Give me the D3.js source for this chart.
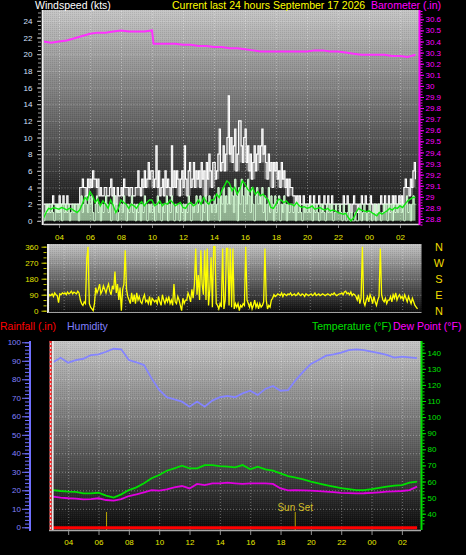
<!DOCTYPE html>
<html>
<head>
<meta charset="utf-8">
<script src="https://cdn.jsdelivr.net/npm/d3@7"></script>
<style>
  body { margin: 0; background: #000; }
  svg { display: block; font-family: "Liberation Sans", Arial, sans-serif; }
</style>
</head>
<body>
<div id="chart"></div>
<script>
var svgWidth = 466;
var svgHeight = 555;

// ---- data (hours counted from midnight of the first day) ----
var hourTicks = [4, 6, 8, 10, 12, 14, 16, 18, 20, 22, 24, 26];
var windTicks = [0, 2, 4, 6, 8, 10, 12, 14, 16, 18, 20, 22, 24];
var baroTicks = [28.8, 28.9, 29, 29.1, 29.2, 29.3, 29.4, 29.5, 29.6, 29.7, 29.8, 29.9, 30, 30.1, 30.2, 30.3, 30.4, 30.5, 30.6];
var dirTicks = [0, 90, 180, 270, 360];
var compass = ["N", "E", "S", "W", "N"];
var humTicks = [0, 10, 20, 30, 40, 50, 60, 70, 80, 90, 100];
var rainTicks = [0, 0.1, 0.2, 0.3, 0.4, 0.5, 0.6, 0.7, 0.8, 0.9, 1, 1.1, 1.2];
var tempTicks = [40, 50, 60, 70, 80, 90, 100, 110, 120, 130, 140];

// wind gust (kts), every 5 minutes from 03:00
var gust = [
  2,2,1,2,2,2,2,3,2,2,2,1,  3,2,2,3,2,2,3,2,2,2,2,2,  2,2,2,2,4,4,5,4,4,3,5,4,
  5,4,6,5,5,4,5,3,4,3,3,4,  4,3,3,4,5,3,4,3,2,4,3,3,  4,3,5,4,4,4,3,4,4,3,3,4,
  4,6,4,3,5,4,6,4,5,7,5,6,  6,4,5,9,4,6,3,4,5,3,6,4,  5,4,3,9,4,6,4,6,5,3,5,6,
  4,9,5,3,6,7,4,5,7,4,6,5,  6,4,7,5,6,3,7,5,8,6,4,7,  7,5,6,8,11,6,7,9,6,8,10,15,
  8,10,7,9,11,6,8,12,12,9,7,10,  11,7,9,6,8,5,7,9,6,8,9,7,  9,11,8,9,7,5,8,6,7,4,7,6,
  7,5,6,4,7,5,6,4,5,3,5,4,  4,3,3,2,3,2,3,2,2,3,2,2,  2,2,3,2,2,3,2,2,2,3,2,2,
  2,3,2,2,3,2,2,3,2,2,2,2,  2,2,2,2,3,2,2,3,2,2,1,2,  3,2,2,1,2,2,3,2,2,3,2,2,
  2,3,2,1,2,2,1,2,2,3,2,2,  3,2,2,3,2,2,3,2,3,2,2,3,  2,3,2,4,5,4,4,3,5,4,6,7,
  5
];
// wind speed (kts), every 5 minutes from 03:00
var speed = [
  0,1,2,1,2,1,2,1,0,2,1,2,  1,2,0,2,1,2,1,2,0,1,2,1,  2,1,2,0,2,3,1,2,3,2,1,3,
  2,3,1,0,2,3,1,2,0,2,1,2,  3,2,1,2,0,2,3,1,2,0,1,2,  2,1,3,2,0,2,1,2,3,1,2,0,
  2,1,2,0,2,1,3,2,0,2,1,2,  1,2,0,2,3,1,2,0,2,1,2,3,  0,2,1,3,2,0,2,1,2,0,2,1,
  2,0,2,1,3,2,0,2,1,2,3,1,  2,3,0,2,1,3,2,0,3,2,1,2,  3,1,2,4,0,3,2,4,1,3,2,4,
  2,4,3,1,5,3,0,4,2,5,3,1,  4,2,5,3,1,4,2,0,3,4,2,3,  2,4,1,3,0,2,4,1,3,2,0,3,
  1,2,3,0,2,1,3,2,0,2,1,2,  2,1,2,0,2,1,2,1,0,2,1,2,  1,2,1,2,0,2,1,2,1,0,2,1,
  2,1,0,2,1,2,1,2,0,1,2,1,  1,2,1,0,2,1,0,1,2,0,1,0,  0,1,0,0,1,2,0,1,2,1,0,1,
  2,1,0,1,2,0,1,2,1,0,1,2,  1,2,0,2,1,2,0,2,1,2,1,2,  2,1,2,0,2,3,1,2,0,2,3,2,
  2
];
// average wind speed (kts), every 10 minutes from 03:00
var avgSpeed = [
  0.3,1.0,1.5,1.4,1.6,1.5,  1.4,1.6,1.5,1.3,1.5,1.4,  1.2,1.0,1.3,2.0,2.8,2.5,
  3.5,3.0,2.2,2.6,1.8,2.4,  2.0,1.5,2.5,1.8,1.0,1.5,  2.5,2.2,2.0,1.5,2.0,1.8,
  1.5,2.0,2.3,1.8,2.2,2.5,  2.5,1.8,2.0,2.4,1.8,2.1,  2.0,2.5,2.2,1.8,2.0,2.2,
  1.6,1.5,2.0,2.2,1.8,2.0,  2.5,2.0,2.8,2.3,2.0,2.5,  2.5,3.2,2.8,3.6,4.2,4.8,
  4.5,3.6,4.0,3.2,3.8,4.8,  4.4,3.8,3.5,4.0,3.2,3.5,  3.0,3.2,2.8,2.5,1.6,1.5,
  2.0,2.6,2.5,2.2,2.4,2.0,  2.0,1.8,2.2,1.8,1.6,1.7,  1.5,1.6,1.8,1.4,1.5,1.6,
  1.4,1.3,1.5,1.2,1.3,1.2,  1.0,0.9,0.8,0.9,0.4,0.0,  0.3,1.0,1.5,1.3,1.2,1.1,
  1.2,1.0,0.8,0.6,1.0,0.8,  1.0,1.2,1.5,1.3,1.6,1.5,  1.8,1.6,2.0,2.4,2.6,2.8,
  2.8
];
// wind direction (degrees), every 5 minutes from 03:00
var direction = [
  75,90,85,95,80,100,90,85,45,95,90,100,  95,100,90,105,95,100,110,95,105,100,95,110,
  100,60,40,30,50,40,290,360,40,20,10,0,  40,130,100,120,150,95,110,140,120,100,130,150,
  110,90,140,120,220,100,150,60,130,0,120,150,  340,120,80,60,40,100,50,90,40,100,60,80,
  50,40,70,90,50,60,40,80,30,70,60,50,  60,40,80,50,30,90,60,40,70,50,80,40,
  60,30,150,50,40,80,60,30,0,70,40,60,  60,100,80,50,120,70,150,350,90,200,60,340,
  150,90,340,60,350,30,120,300,20,360,360,40,  30,10,40,20,350,10,60,350,350,30,350,20,
  350,10,40,20,40,0,30,20,40,30,360,60,  40,20,50,10,30,60,20,40,10,40,20,30,
  50,350,60,10,30,20,60,70,90,80,85,95,  90,85,100,80,95,90,85,95,90,100,85,90,
  95,85,90,100,90,85,95,90,80,95,90,85,  90,95,85,90,100,85,90,95,85,90,95,90,
  85,90,95,90,85,95,90,100,90,85,90,95,  95,100,90,105,110,95,100,90,105,85,95,90,
  80,60,90,40,70,360,50,30,60,80,50,90,  70,40,80,50,30,60,80,350,90,60,50,70,
  40,60,60,80,50,90,70,100,60,80,90,70,  80,60,90,70,50,80,60,40,70,50,30,20,
  10
];
// barometer (in)
var baroTime = [3, 3.5, 4, 4.5, 5, 5.5, 6, 6.5, 7, 7.5, 8, 8.5, 9, 9.5, 10, 10.1, 10.5, 11, 11.5, 12, 12.5, 13, 13.5, 14, 14.5,
  15, 15.5, 16, 16.5, 17, 17.5, 18, 18.5, 19, 19.5, 20, 20.5, 21, 21.5, 22, 22.5, 23, 23.5, 24, 24.5, 25, 25.5, 26, 26.5, 27];
var baroValue = [30.40, 30.39, 30.40, 30.41, 30.43, 30.45, 30.47, 30.48, 30.48, 30.49, 30.50, 30.49, 30.49, 30.49, 30.50, 30.38,
  30.38, 30.38, 30.38, 30.37, 30.37, 30.36, 30.36, 30.35, 30.35, 30.34, 30.34, 30.33, 30.32, 30.31, 30.31, 30.31, 30.31,
  30.31, 30.31, 30.31, 30.32, 30.32, 30.31, 30.31, 30.30, 30.29, 30.28, 30.28, 30.28, 30.28, 30.27, 30.27, 30.26, 30.28];
// every 30 minutes from 03:00
var humidity = [89.2, 91.6, 89.0, 90.4, 91.1, 93.1, 93.5, 94.9, 96.5, 96.2, 90.4, 89.2, 87.7, 80.5, 74.2, 70.3, 69.2, 67.9,
  65.2, 68.0, 65.2, 68.5, 70.3, 71.0, 70.3, 72.4, 73.8, 71.5, 74.8, 76.4, 73.8, 74.2, 79.6, 84.1, 88.3, 90.4, 92.8, 93.5,
  94.4, 95.8, 96.2, 95.8, 94.9, 94.1, 93.2, 91.7, 92.3, 91.9, 91.4];
var temperature = [54.7, 54.1, 53.7, 53.5, 52.6, 52.6, 53.0, 51.2, 50.0, 52.0, 54.7, 56.4, 58.9, 62.0, 64.0, 66.7, 68.2, 69.8,
  68.2, 68.2, 70.2, 70.2, 69.6, 69.2, 68.8, 70.2, 67.6, 69.2, 67.6, 66.7, 65.1, 63.4, 62.4, 61.3, 59.9, 58.9, 57.8, 56.8,
  55.9, 55.3, 54.7, 54.7, 55.3, 56.1, 56.8, 57.4, 57.8, 59.3, 59.9];
var dewPoint = [50.6, 50.0, 49.6, 49.4, 48.9, 49.1, 49.6, 48.5, 48.1, 49.1, 51.0, 52.0, 53.3, 54.7, 54.3, 55.1, 56.4, 57.2,
  55.7, 58.5, 57.8, 58.9, 58.9, 59.3, 58.9, 58.5, 58.9, 58.9, 58.9, 58.5, 55.7, 54.5, 54.7, 54.5, 54.3, 54.0, 53.7, 53.4,
  53.0, 52.8, 52.6, 52.7, 53.0, 53.3, 53.7, 53.9, 54.1, 54.7, 56.8];
// hourly rainfall total (in)
var rainfall = [0, 0, 0, 0, 0, 0, 0, 0, 0, 0, 0, 0, 0, 0, 0, 0, 0, 0, 0, 0, 0, 0, 0, 0, 0];
var sunTimes = [6.53, 18.97];
var sunLabels = ["", "Sun Set"];

// ---- svg ----
var svg = d3.select("#chart").append("svg")
  .attr("width", svgWidth)
  .attr("height", svgHeight);

var defs = svg.append("defs");
var grad = defs.append("linearGradient")
  .attr("id", "bg").attr("x1", 0).attr("y1", 0).attr("x2", 0).attr("y2", 1);
grad.append("stop").attr("offset", "0%").attr("stop-color", "#c6c6c6");
grad.append("stop").attr("offset", "100%").attr("stop-color", "#0a0a0a");

// fine dither texture, like the old gif
var dots = defs.append("pattern").attr("id", "dots")
  .attr("width", 2).attr("height", 2).attr("patternUnits", "userSpaceOnUse");
dots.append("rect").attr("width", 1).attr("height", 1).attr("fill", "#000").attr("fill-opacity", 0.09);
dots.append("rect").attr("x", 1).attr("y", 1).attr("width", 1).attr("height", 1).attr("fill", "#fff").attr("fill-opacity", 0.05);

function clip(id, x0, y0, x1, y1) {
  defs.append("clipPath").attr("id", id).append("rect")
    .attr("x", x0).attr("y", y0).attr("width", x1 - x0).attr("height", y1 - y0);
}

function panel(box) {
  svg.append("rect").attr("x", box.x0).attr("y", box.y0)
    .attr("width", box.x1 - box.x0).attr("height", box.y1 - box.y0).attr("fill", "url(#bg)");
  svg.append("rect").attr("x", box.x0).attr("y", box.y0)
    .attr("width", box.x1 - box.x0).attr("height", box.y1 - box.y0).attr("fill", "url(#dots)");
}

function gridStyle(g) {
  g.select(".domain").remove();
  g.selectAll("line")
    .attr("stroke", "#ffffff")
    .attr("stroke-opacity", 0.35)
    .attr("stroke-dasharray", "1,2");
}

function axisStyle(color, textColor, size) {
  return function(g) {
    g.select(".domain").remove();
    g.selectAll("line").attr("stroke", color);
    g.selectAll("text").attr("fill", textColor).attr("font-size", size)
      .attr("font-family", "'Liberation Sans', Arial, sans-serif");
  };
}

var hourFormat = d => String(d % 24).padStart(2, "0");
var numFormat = d => String(+d.toFixed(2));

// ================= top panel: wind speed + barometer =================
var topBox = { x0: 43.5, x1: 419.5, y0: 10, y1: 225 };
var xTop = d3.scaleLinear().domain([3, 27.26]).range([topBox.x0, topBox.x1]);
var yWind = d3.scaleLinear().domain([-0.5, 25.3]).range([topBox.y1, topBox.y0]);
var yBaro = d3.scaleLinear().domain([28.746, 30.684]).range([topBox.y1, topBox.y0]);

panel(topBox);
clip("clipTop", topBox.x0, topBox.y0, topBox.x1, topBox.y1);

svg.append("g").attr("transform", `translate(0,${topBox.y1})`)
  .call(d3.axisBottom(xTop).tickValues(hourTicks).tickSize(-(topBox.y1 - topBox.y0)).tickFormat(""))
  .call(gridStyle);
svg.append("g").attr("transform", `translate(${topBox.x0},0)`)
  .call(d3.axisLeft(yWind).tickValues(windTicks.slice(1)).tickSize(-(topBox.x1 - topBox.x0)).tickFormat(""))
  .call(gridStyle);

var windData = gust.map((g, i) => ({
  t: 3 + i / 12, gust: g, speed: speed[i], dir: direction[i],
  // lowest gust nearby, used for the grey band under the gust trace
  low: d3.min(gust.slice(Math.max(0, i - 2), i + 3))
}));
var avgData = avgSpeed.map((v, i) => ({ t: 3 + i / 6, v: v }));
var baroData = baroValue.map((v, i) => ({ t: baroTime[i], v: v }));

var topPlot = svg.append("g").attr("clip-path", "url(#clipTop)");

topPlot.append("path").datum(windData)
  .attr("fill", "#ffffff").attr("fill-opacity", 0.35)
  .attr("d", d3.area().x(d => xTop(d.t)).y0(d => yWind(d.low)).y1(d => yWind(d.gust)).curve(d3.curveStepAfter));
topPlot.append("path").datum(windData)
  .attr("fill", "none").attr("stroke", "#ffffff").attr("stroke-width", 1.1)
  .attr("d", d3.line().x(d => xTop(d.t)).y(d => yWind(d.gust)).curve(d3.curveStepAfter));

topPlot.append("path").datum(windData)
  .attr("fill", "#c4f2c4").attr("fill-opacity", 0.7)
  .attr("d", d3.area().x(d => xTop(d.t)).y0(yWind(0)).y1(d => yWind(d.speed)).curve(d3.curveStepAfter));
topPlot.append("path").datum(windData)
  .attr("fill", "none").attr("stroke", "#d8ffd8").attr("stroke-width", 1)
  .attr("d", d3.line().x(d => xTop(d.t)).y(d => yWind(d.speed)).curve(d3.curveStepAfter));

topPlot.append("path").datum(avgData)
  .attr("fill", "none").attr("stroke", "#10e810").attr("stroke-width", 1.4)
  .attr("d", d3.line().x(d => xTop(d.t)).y(d => yWind(d.v)));

topPlot.append("path").datum(baroData)
  .attr("fill", "none").attr("stroke", "#ff30ff").attr("stroke-width", 2)
  .attr("d", d3.line().x(d => xTop(d.t)).y(d => yBaro(d.v)));

// frame lines
svg.append("line").attr("x1", topBox.x0).attr("x2", topBox.x1).attr("y1", topBox.y1 - 0.5).attr("y2", topBox.y1 - 0.5)
  .attr("stroke", "#d8d8d8").attr("stroke-width", 1.5);
svg.append("line").attr("x1", 42.7).attr("x2", 42.7).attr("y1", topBox.y0).attr("y2", topBox.y1)
  .attr("stroke", "#f0f0f0").attr("stroke-width", 2);
svg.append("line").attr("x1", 419.5).attr("x2", 419.5).attr("y1", topBox.y0).attr("y2", topBox.y1)
  .attr("stroke", "#ff00ff").attr("stroke-width", 2);

// left axis
svg.append("g").attr("transform", "translate(41,0)")
  .call(d3.axisLeft(yWind).tickValues(d3.range(0, 25.1, 0.5)).tickSize(3).tickFormat(""))
  .call(axisStyle("#9a9a9a", "#fff", "8px"));
svg.append("g").attr("transform", "translate(41,0)")
  .call(d3.axisLeft(yWind).tickValues(windTicks).tickSize(4).tickPadding(4.5))
  .call(axisStyle("#b0b0b0", "#d4e0ff", "8px"));

// right axis
svg.append("g").attr("transform", "translate(420.5,0)")
  .call(d3.axisRight(yBaro).tickValues(d3.range(28.75, 30.68, 0.025)).tickSize(2).tickFormat(""))
  .call(axisStyle("#ff00ff", "#fff", "8px"));
svg.append("g").attr("transform", "translate(420.5,0)")
  .call(d3.axisRight(yBaro).tickValues(baroTicks).tickSize(3.5).tickPadding(1.5).tickFormat(numFormat))
  .call(axisStyle("#ff00ff", "#ff00ff", "8px"));

// bottom axis
svg.append("g").attr("transform", `translate(0,${topBox.y1})`)
  .call(d3.axisBottom(xTop).tickValues(hourTicks).tickSize(3).tickPadding(6).tickFormat(hourFormat))
  .call(axisStyle("#808080", "#e8e800", "8px"));

// titles
svg.append("text").attr("x", 35).attr("y", 9).attr("fill", "#ffffff").attr("font-size", "10.5px").text("Windspeed (kts)");
svg.append("text").attr("x", 172).attr("y", 9).attr("fill", "#ffff00").attr("font-size", "10.5px").text("Current last 24 hours September 17 2026");
svg.append("text").attr("x", 371).attr("y", 9).attr("fill", "#ff00ff").attr("font-size", "10.5px").text("Barometer (.in)");

// ================= middle panel: wind direction =================
var midBox = { x0: 48.3, x1: 421.5, y0: 244, y1: 313 };
var xDir = d3.scaleLinear().domain([3, 27.26]).range([midBox.x0, midBox.x1]);
var yDir = d3.scaleLinear().domain([-12.9, 375.2]).range([midBox.y1, midBox.y0]);

panel(midBox);
clip("clipMid", midBox.x0, midBox.y0, midBox.x1, midBox.y1);

svg.append("g").attr("transform", `translate(0,${midBox.y1})`)
  .call(d3.axisBottom(xDir).tickValues(hourTicks).tickSize(-(midBox.y1 - midBox.y0)).tickFormat(""))
  .call(gridStyle);
svg.append("g").attr("transform", `translate(${midBox.x0},0)`)
  .call(d3.axisLeft(yDir).tickValues([90, 180, 270]).tickSize(-(midBox.x1 - midBox.x0)).tickFormat(""))
  .call(gridStyle);

svg.append("g").attr("clip-path", "url(#clipMid)")
  .append("path").datum(windData)
  .attr("fill", "none").attr("stroke", "#ffff00").attr("stroke-width", 1.3)
  .attr("d", d3.line().x(d => xDir(d.t)).y(d => yDir(d.dir)));

svg.append("line").attr("x1", 48).attr("x2", 48).attr("y1", midBox.y0).attr("y2", midBox.y1)
  .attr("stroke", "#e8e8e8").attr("stroke-width", 2);
svg.append("line").attr("x1", midBox.x0).attr("x2", midBox.x1).attr("y1", midBox.y1 - 0.5).attr("y2", midBox.y1 - 0.5)
  .attr("stroke", "#a0a0a0").attr("stroke-width", 1);

svg.append("g").attr("transform", "translate(46.5,0)")
  .call(d3.axisLeft(yDir).tickValues(d3.range(0, 361, 30)).tickSize(3).tickFormat(""))
  .call(axisStyle("#c8c800", "#fff", "8px"));
svg.append("g").attr("transform", "translate(46.5,0)")
  .call(d3.axisLeft(yDir).tickValues(dirTicks).tickSize(5).tickPadding(3))
  .call(axisStyle("#c8c800", "#e0e000", "8px"));

// compass letters on the right
svg.append("g").selectAll("text").data(dirTicks).enter().append("text")
  .attr("x", 439)
  .attr("y", d => yDir(d) + 4)
  .attr("text-anchor", "middle")
  .attr("fill", "#f2dc00")
  .attr("font-size", "11px")
  .text((d, i) => compass[i]);

// ================= bottom panel: rain, humidity, temperature =================
var botBox = { x0: 53, x1: 421, y0: 341, y1: 530 };
var xBot = d3.scaleLinear().domain([3, 27.26]).range([botBox.x0, botBox.x1]);
var yHum = d3.scaleLinear().domain([-1.46, 100.7]).range([botBox.y1, botBox.y0]);
var yRain = d3.scaleLinear().domain([-0.0147, 1.197]).range([botBox.y1, botBox.y0]);
var yTemp = d3.scaleLinear().domain([29.88, 147.27]).range([botBox.y1, botBox.y0]);

panel(botBox);
clip("clipBot", botBox.x0, botBox.y0, botBox.x1, botBox.y1);
clip("clipRain", 0, 339, 60, 540);

svg.append("g").attr("transform", `translate(0,${botBox.y1})`)
  .call(d3.axisBottom(xBot).tickValues(hourTicks).tickSize(-(botBox.y1 - botBox.y0)).tickFormat(""))
  .call(gridStyle);
svg.append("g").attr("transform", `translate(${botBox.x0},0)`)
  .call(d3.axisLeft(yHum).tickValues(humTicks.slice(1, 10)).tickSize(-(botBox.x1 - botBox.x0)).tickFormat(""))
  .call(gridStyle);

var halfHour = humidity.map((h, i) => ({ t: 3 + i / 2, hum: h, temp: temperature[i], dew: dewPoint[i] }));
var rainData = rainfall.map((r, i) => ({ t: 3 + i, v: r }));

var botPlot = svg.append("g").attr("clip-path", "url(#clipBot)");

botPlot.append("path").datum(halfHour)
  .attr("fill", "none").attr("stroke", "#8484ff").attr("stroke-width", 1.8)
  .attr("d", d3.line().x(d => xBot(d.t)).y(d => yHum(d.hum)));
botPlot.append("path").datum(halfHour)
  .attr("fill", "none").attr("stroke", "#e000e0").attr("stroke-width", 1.8)
  .attr("d", d3.line().x(d => xBot(d.t)).y(d => yTemp(d.dew)));
botPlot.append("path").datum(halfHour)
  .attr("fill", "none").attr("stroke", "#00e000").attr("stroke-width", 1.8)
  .attr("d", d3.line().x(d => xBot(d.t)).y(d => yTemp(d.temp)));

// sunrise / sunset markers
botPlot.selectAll(".sun").data(sunTimes).enter().append("line")
  .attr("x1", d => xBot(d)).attr("x2", d => xBot(d))
  .attr("y1", 512).attr("y2", botBox.y1)
  .attr("stroke", "#b8a400").attr("stroke-width", 1);
svg.selectAll(".sunText").data(sunTimes).enter().append("text")
  .attr("x", d => xBot(d))
  .attr("y", 510.5)
  .attr("text-anchor", "middle")
  .attr("fill", "#d2bf2a")
  .attr("font-size", "10px")
  .text((d, i) => sunLabels[i]);

botPlot.append("path").datum(rainData)
  .attr("fill", "none").attr("stroke", "#ff0000").attr("stroke-width", 3)
  .attr("d", d3.line().x(d => xBot(d.t)).y(d => yRain(d.v)));

// frame
svg.append("line").attr("x1", 49).attr("x2", botBox.x1).attr("y1", botBox.y1 + 0.5).attr("y2", botBox.y1 + 0.5)
  .attr("stroke", "#a8a8a8").attr("stroke-width", 1.5);
svg.append("line").attr("x1", 52.8).attr("x2", 52.8).attr("y1", botBox.y0).attr("y2", botBox.y1)
  .attr("stroke", "#f4f4f4").attr("stroke-width", 1.5);
svg.append("line").attr("x1", 50.6).attr("x2", 50.6).attr("y1", botBox.y0).attr("y2", botBox.y1)
  .attr("stroke", "#ffc0c0").attr("stroke-width", 2);
svg.append("line").attr("x1", 50.6).attr("x2", 50.6).attr("y1", botBox.y0).attr("y2", botBox.y1)
  .attr("stroke", "#ff2020").attr("stroke-width", 2).attr("stroke-dasharray", "2,2");
svg.append("line").attr("x1", 30).attr("x2", 30).attr("y1", botBox.y0).attr("y2", botBox.y1 + 1)
  .attr("stroke", "#7070ff").attr("stroke-width", 2);
svg.append("line").attr("x1", 421.5).attr("x2", 421.5).attr("y1", botBox.y0).attr("y2", botBox.y1)
  .attr("stroke", "#00e000").attr("stroke-width", 2);

// humidity axis
svg.append("g").attr("transform", "translate(29,0)")
  .call(d3.axisLeft(yHum).tickValues(d3.range(0, 101, 2)).tickSize(4).tickFormat(""))
  .call(axisStyle("#7070ff", "#fff", "8px"));
svg.append("g").attr("transform", "translate(29,0)")
  .call(d3.axisLeft(yHum).tickValues(humTicks).tickSize(7).tickPadding(1))
  .call(axisStyle("#7070ff", "#8080ff", "8px"));

// rainfall axis
svg.append("g").attr("transform", "translate(49.5,0)").attr("clip-path", "url(#clipRain)")
  .call(d3.axisLeft(yRain).tickValues(rainTicks).tickSize(3).tickPadding(1.5).tickFormat(numFormat))
  .call(axisStyle("#ff0000", "#ff0000", "8px"));

// temperature axis
svg.append("g").attr("transform", "translate(422.5,0)")
  .call(d3.axisRight(yTemp).tickValues(d3.range(34, 147, 2)).tickSize(2).tickFormat(""))
  .call(axisStyle("#00e000", "#fff", "8px"));
svg.append("g").attr("transform", "translate(422.5,0)")
  .call(d3.axisRight(yTemp).tickValues(tempTicks).tickSize(3.5).tickPadding(1.5))
  .call(axisStyle("#00e000", "#00e000", "8px"));

// bottom time axis
svg.append("g").attr("transform", `translate(0,${botBox.y1 + 1})`)
  .call(d3.axisBottom(xBot).tickValues(hourTicks).tickSize(4).tickPadding(4.5).tickFormat(hourFormat))
  .call(axisStyle("#909090", "#e8e800", "8px"));

// legend row
svg.append("text").attr("x", 0).attr("y", 330).attr("fill", "#ff0000").attr("font-size", "10.5px").text("Rainfall (.in)");
svg.append("text").attr("x", 67).attr("y", 330).attr("fill", "#8080ff").attr("font-size", "10.5px").text("Humidity");
svg.append("text").attr("x", 312).attr("y", 330).attr("fill", "#00e000").attr("font-size", "10.5px").text("Temperature (°F)");
svg.append("text").attr("x", 393).attr("y", 330).attr("fill", "#ff00ff").attr("font-size", "10.5px").text("Dew Point (°F)");
</script>
</body>
</html>
